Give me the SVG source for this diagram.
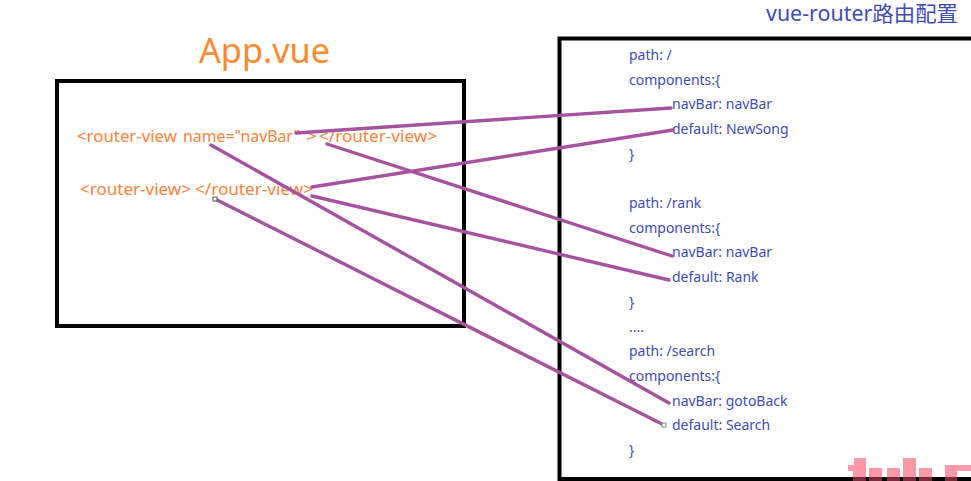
<svg xmlns="http://www.w3.org/2000/svg" width="971" height="481" viewBox="0 0 971 481">
<style>
text{font-family:"Noto Sans","Noto Sans CJK SC",sans-serif}
.o{fill:#f5843c;font-size:15.5px}
.b{fill:#3f4db0;font-size:14px}
.box{fill:none;stroke:#000;stroke-width:4}
.c{fill:none;stroke:#a6539f;stroke-width:3.400;stroke-linecap:round}
.w{fill:#fd9aa9}
.d{fill:#7c2c38}
</style>
<rect width="971" height="481" fill="#fff"/>
<g id="app-title"><text x="199" y="63" textLength="131" lengthAdjust="spacingAndGlyphs" style="font-size:35px;fill:#fb8a2e">App.vue</text></g>
<g id="app-box">
<rect class="box" x="57" y="81" width="407" height="245"/>
<g class="o">
<text x="77" y="142" textLength="100" lengthAdjust="spacingAndGlyphs">&lt;router-view</text>
<text x="183" y="142" textLength="117" lengthAdjust="spacingAndGlyphs">name="navBar"</text>
<text x="306" y="142" textLength="11" lengthAdjust="spacingAndGlyphs">&gt;</text>
<text x="319" y="142" textLength="118" lengthAdjust="spacingAndGlyphs">&lt;/router-view&gt;</text>
<text x="80" y="195" textLength="111" lengthAdjust="spacingAndGlyphs">&lt;router-view&gt;</text>
<text x="195" y="195" textLength="118" lengthAdjust="spacingAndGlyphs">&lt;/router-view&gt;</text>
</g>
</g>
<g id="config-title"><text x="766" y="21" textLength="192" lengthAdjust="spacingAndGlyphs" style="font-size:21px;fill:#3f4db0">vue-router路由配置</text></g>
<g id="config-box">
<path class="box" d="M971 38.500H559.500V479H971"/>
<g class="b">
<text x="629" y="60">path: /</text>
<text x="629" y="85">components:{</text>
<text x="672" y="109">navBar: navBar</text>
<text x="672" y="134">default: NewSong</text>
<text x="629" y="159">}</text>
<text x="629" y="208">path: /rank</text>
<text x="629" y="233">components:{</text>
<text x="672" y="257">navBar: navBar</text>
<text x="672" y="282">default: Rank</text>
<text x="629" y="307">}</text>
<text x="629" y="332">....</text>
<text x="629" y="356">path: /search</text>
<text x="629" y="381">components:{</text>
<text x="672" y="406">navBar: gotoBack</text>
<text x="672" y="430">default: Search</text>
<text x="629" y="455">}</text>
</g>
</g>
<g id="connectors">
<path class="c" d="M296 133L671 108"/>
<path class="c" d="M327 144L672 256"/>
<path class="c" d="M312 187L673 130"/>
<path class="c" d="M312 196L669 280"/>
<path class="c" d="M211 145L669 403"/>
<path class="c" d="M215 199L664 425"/>
<rect x="213" y="197" width="4" height="4" fill="#fff" stroke="#555" stroke-width="1"/>
<rect x="662" y="423" width="4" height="4" fill="#fff" stroke="#888" stroke-width="1"/>
</g>
<g id="watermark">
<path class="w" d="M854 458H866V481H853V471H848V465H854Z"/>
<rect class="w" x="869" y="468" width="13" height="13"/>
<rect class="w" x="887" y="468" width="13" height="13"/>
<rect class="w" x="903" y="458" width="13" height="23"/>
<rect class="w" x="919" y="468" width="13" height="13"/>
<path class="w" d="M945 465H971V471H957V481H945Z"/>
<path class="d" d="M853 477h13v4h-13zM869 477h13v4h-13zM887 477h13v4h-13zM903 477h13v4h-13zM919 477h13v4h-13zM945 477h12v4h-12z"/>
</g>
</svg>
